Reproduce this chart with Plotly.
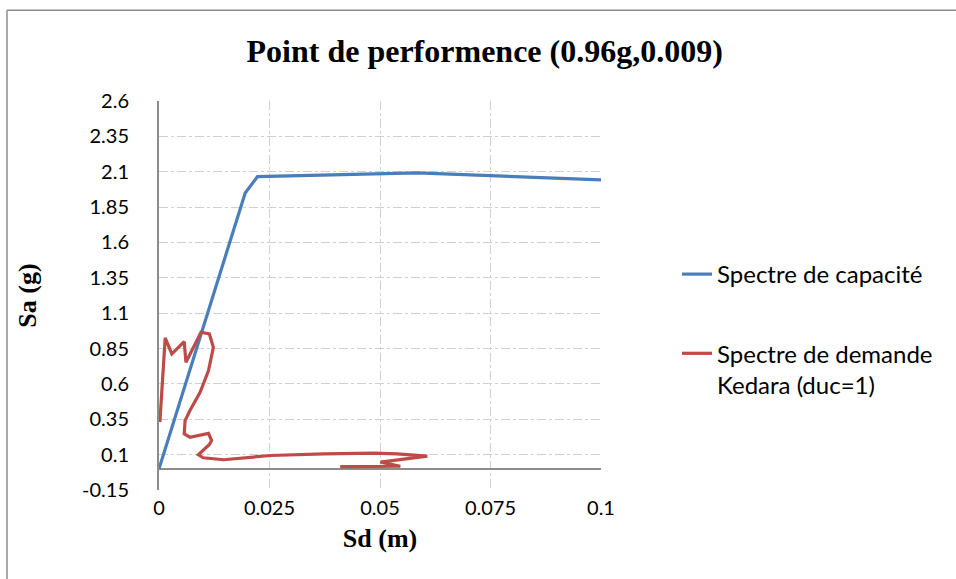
import plotly.graph_objects as go

# Capacity spectrum (Sd in m, Sa in g)
sd_capacity = [0.0, 0.0195, 0.0223, 0.0584, 0.1]
sa_capacity = [0.0, 1.95, 2.066, 2.092, 2.043]

# Demand spectrum, Kedara record, ductility 1 (ADRS format)
sd_demand = [0.0002, 0.0014, 0.0029, 0.0057, 0.0061, 0.0095, 0.0114, 0.0123,
             0.0112, 0.0093, 0.0070, 0.0059, 0.0057, 0.0070, 0.0112, 0.0119,
             0.0114, 0.0089, 0.0100, 0.0146, 0.0252, 0.0373, 0.0486, 0.0539,
             0.0607, 0.0569, 0.0501, 0.0546, 0.0410]
sa_demand = [0.33, 0.925, 0.812, 0.899, 0.753, 0.965, 0.953, 0.859,
             0.694, 0.541, 0.412, 0.341, 0.247, 0.223, 0.250, 0.200,
             0.172, 0.099, 0.078, 0.064, 0.094, 0.106, 0.110, 0.106,
             0.089, 0.072, 0.047, 0.018, 0.015]

x_ticks = [0, 0.025, 0.05, 0.075, 0.1]
x_labels = ["0", "0.025", "0.05", "0.075", "0.1"]
y_ticks = [-0.15, 0.1, 0.35, 0.6, 0.85, 1.1, 1.35, 1.6, 1.85, 2.1, 2.35, 2.6]
y_labels = ["-0.15", "0.1", "0.35", "0.6", "0.85", "1.1", "1.35", "1.6",
            "1.85", "2.1", "2.35", "2.6"]

BLUE = "#4A7EBB"
RED = "#BE4B48"
GRID = "#D0D0D0"
AXIS = "#8C8C8C"
sans = "Lato, Carlito, Calibri, sans-serif"
tick_font = dict(family=sans, size=20, color="#000000")
serif_bold = "Liberation Serif, Times New Roman, serif"

fig = go.Figure()
fig.add_trace(go.Scatter(
    x=sd_capacity, y=sa_capacity, mode="lines",
    name="Spectre de capacité", legendgroup="cap",
    line=dict(color=BLUE, width=3.2),
))
fig.add_trace(go.Scatter(
    x=sd_demand, y=sa_demand, mode="lines",
    name="Spectre de demande<br>Kedara (duc=1)", legendgroup="dem",
    line=dict(color=RED, width=3.2),
))

fig.update_layout(
    width=956, height=579,
    margin=dict(l=159, r=355, t=101, b=89),
    paper_bgcolor="white", plot_bgcolor="white",
    title=dict(
        text="<b>Point de performence (0.96g,0.009)</b>",
        font=dict(family=serif_bold, size=32, color="#000000"),
        x=0.507, xref="container", xanchor="center",
        y=1 - 51 / 579, yref="container", yanchor="middle",
    ),
    xaxis=dict(
        range=[0, 0.1], tickvals=x_ticks, ticktext=x_labels,
        showgrid=True, gridcolor=GRID, griddash="dashdot", gridwidth=1,
        zeroline=False, showline=False, ticks="",
        tickfont=tick_font, ticklabelstandoff=4,
        title=dict(text="<b>Sd (m)</b>",
                   font=dict(family=serif_bold, size=26, color="#000000"),
                   standoff=10),
    ),
    yaxis=dict(
        range=[-0.15, 2.6], tickvals=y_ticks, ticktext=y_labels,
        showgrid=True, gridcolor=GRID, griddash="dashdot", gridwidth=1,
        zeroline=True, zerolinecolor=AXIS, zerolinewidth=2,
        showline=True, linecolor=AXIS, linewidth=2, mirror=False,
        ticks="", tickfont=tick_font, ticklabelstandoff=24,
        title=dict(text="<b>Sa (g)</b>",
                   font=dict(family=serif_bold, size=26, color="#000000"),
                   standoff=38),
    ),
    legend=dict(
        x=677 / 956, xref="container", xanchor="left",
        y=1 - 252 / 579, yref="container", yanchor="top",
        font=dict(family=sans, size=24, color="#000000"),
        valign="top", tracegroupgap=45, bgcolor="rgba(0,0,0,0)",
    ),
    showlegend=True,
)

# Chart frame (left and top edges)
fig.add_shape(type="line", xref="paper", yref="paper",
              x0=(7 - 159) / 442, x1=(7 - 159) / 442,
              y0=1.233, y1=-0.3, line=dict(color=AXIS, width=1.5))
fig.add_shape(type="line", xref="paper", yref="paper",
              x0=(7 - 159) / 442, x1=1.9,
              y0=1.233, y1=1.233, line=dict(color=AXIS, width=1.5))

fig.write_html("out.html")
